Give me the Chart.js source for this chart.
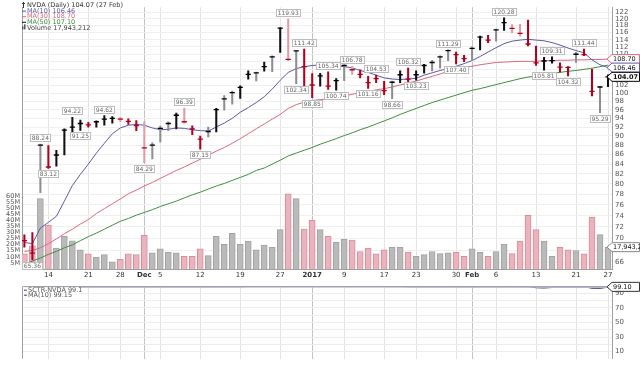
<!DOCTYPE html>
<html>
<head>
<meta charset="utf-8">
<title>NVDA Daily</title>
<script src="https://cdn.jsdelivr.net/npm/chart.js@4.4.1/dist/chart.umd.min.js"></script>
<style>
  html, body { margin: 0; padding: 0; background: #fff; width: 640px; height: 366px; overflow: hidden; }
  canvas { position: absolute; left: 0; display: block; }
  #main { top: 0; }
  #sctr { top: 279px; }
</style>
</head>
<body>
<canvas id="main" width="640" height="279"></canvas>
<canvas id="sctr" width="640" height="87"></canvas>
<script>
// ---- data ----
const dates = ['2016-11-09','2016-11-10','2016-11-11','2016-11-14','2016-11-15','2016-11-16','2016-11-17','2016-11-18','2016-11-21','2016-11-22',
  '2016-11-23','2016-11-25','2016-11-28','2016-11-29','2016-11-30','2016-12-01','2016-12-02','2016-12-05','2016-12-06','2016-12-07',
  '2016-12-08','2016-12-09','2016-12-12','2016-12-13','2016-12-14','2016-12-15','2016-12-16','2016-12-19','2016-12-20','2016-12-21',
  '2016-12-22','2016-12-23','2016-12-27','2016-12-28','2016-12-29','2016-12-30','2017-01-03','2017-01-04','2017-01-05','2017-01-06',
  '2017-01-09','2017-01-10','2017-01-11','2017-01-12','2017-01-13','2017-01-17','2017-01-18','2017-01-19','2017-01-20','2017-01-23',
  '2017-01-24','2017-01-25','2017-01-26','2017-01-27','2017-01-30','2017-01-31','2017-02-01','2017-02-02','2017-02-03','2017-02-06',
  '2017-02-07','2017-02-08','2017-02-09','2017-02-10','2017-02-13','2017-02-14','2017-02-15','2017-02-16','2017-02-17','2017-02-21',
  '2017-02-22','2017-02-23','2017-02-24','2017-02-27'];

const high = [70.6, 71.0, 88.24, 87.9, 86.9, 91.6, 94.22, 93.6, 93.1, 93.4,
  94.62, 94.4, 94.2, 93.9, 93.5, 93.2, 88.5, 92.2, 93.2, 95.2,
  96.39, 92.3, 90.0, 92.0, 96.3, 99.4, 100.5, 101.8, 105.6, 105.3,
  107.9, 109.6, 117.4, 119.93, 111.0, 111.42, 104.9, 105.0, 105.34, 103.6,
  107.2, 106.78, 105.9, 104.2, 104.53, 102.9, 103.0, 105.6, 106.32, 105.6,
  107.3, 108.4, 109.6, 111.29, 110.6, 109.7, 112.0, 115.0, 115.2, 117.0,
  120.28, 118.3, 118.4, 119.6, 112.2, 109.2, 109.31, 107.7, 106.7, 110.5,
  111.44, 106.0, 101.7, 104.6];

const low = [68.5, 66.4, 78.3, 83.12, 83.6, 85.9, 89.9, 91.25, 92.0, 92.0,
  92.4, 92.9, 93.2, 92.6, 91.2, 84.29, 85.1, 88.7, 91.2, 91.6,
  92.9, 90.3, 87.15, 89.8, 90.9, 95.9, 97.3, 98.7, 103.5, 103.0,
  105.5, 105.4, 110.5, 108.3, 102.34, 101.8, 98.85, 101.7, 100.9, 100.74,
  103.1, 104.7, 103.8, 101.16, 102.6, 99.6, 98.66, 102.6, 102.6, 103.23,
  105.0, 105.6, 106.3, 108.3, 107.40, 108.0, 108.3, 111.2, 113.2, 113.6,
  116.6, 115.9, 115.0, 112.3, 107.0, 105.81, 107.6, 105.3, 104.32, 107.8,
  109.6, 99.3, 95.29, 101.6];

const close = [69.6, 67.5, 88.0, 83.4, 85.9, 91.3, 92.0, 92.8, 92.5, 93.2,
  93.8, 94.0, 93.8, 93.3, 92.3, 87.4, 88.0, 91.7, 92.8, 94.7,
  93.2, 91.6, 89.3, 91.0, 96.0, 98.6, 100.1, 101.4, 104.7, 105.1,
  106.7, 109.3, 117.3, 108.6, 110.9, 106.7, 102.0, 104.3, 101.7, 103.1,
  107.0, 105.9, 104.7, 102.6, 103.6, 100.6, 102.7, 104.6, 103.5, 104.6,
  107.0, 107.8, 109.3, 111.0, 109.9, 108.8, 111.6, 114.7, 113.9, 116.8,
  118.9, 117.2, 115.8, 112.8, 107.7, 108.2, 108.3, 106.6, 106.5, 110.0,
  109.9, 100.4, 101.5, 104.07];

// k = black bar, g = grey bar, r = red bar, p = pale red bar
const barStyle = ['r','r','g','r','k','k','k','k','r','k',
  'k','k','p','r','r','p','g','g','g','k',
  'p','r','r','g','k','g','g','k','k','g',
  'k','g','k','p','g','r','r','k','r','k',
  'g','p','r','r','r','r','g','k','r','k',
  'k','g','g','g','r','r','g','k','r','g',
  'k','p','p','r','r','k','k','r','r','g',
  'r','r','g','k'];

// volume, millions of shares
const volume = [12.4, 19.0, 57.9, 36.0, 17.1, 27.0, 23.1, 15.8, 12.4, 9.7,
  11.8, 5.8, 7.9, 12.4, 11.8, 27.6, 13.2, 16.6, 13.7, 13.2,
  10.5, 10.5, 16.6, 11.0, 26.8, 20.3, 29.4, 20.3, 22.9, 15.8,
  19.7, 17.9, 32.4, 61.8, 57.9, 32.9, 40.3, 32.4, 26.8, 21.9,
  24.5, 23.7, 14.4, 17.1, 12.4, 15.8, 17.9, 17.9, 14.0, 10.5,
  11.8, 14.4, 12.6, 13.2, 13.7, 10.5, 16.6, 13.7, 10.5, 14.4,
  20.5, 12.6, 22.9, 44.2, 32.4, 22.9, 10.5, 17.9, 15.8, 15.2,
  12.4, 42.6, 28.2, 17.943212];

const ma10 = [69.3, 69.1, 71.8, 72.8, 73.9, 76.7, 79.7, 81.9, 84.0, 86.3,
  88.4, 90.5, 91.8, 92.4, 92.6, 92.4, 91.8, 91.4, 91.5, 91.8,
  91.7, 91.4, 91.2, 91.1, 92.0, 92.9, 94.0, 95.4, 96.5, 97.7,
  99.1, 101.0, 103.2, 105.2, 106.2, 106.7, 107.0, 107.2, 107.1, 107.0,
  106.7, 106.4, 105.7, 105.2, 104.5, 103.8, 103.5, 103.4, 103.5, 103.7,
  104.5, 105.1, 105.7, 106.2, 106.8, 107.5, 108.3, 109.4, 110.6, 111.8,
  112.9, 113.6, 113.9, 114.1, 113.9, 113.7, 113.2, 112.5, 111.7, 111.0,
  110.4, 108.5, 107.2, 106.46];

const ma30 = [67.8, 67.95, 68.4, 69.1, 69.9, 70.8, 71.6, 72.5, 73.3, 74.4,
  75.3, 76.2, 77.1, 78.1, 78.8, 79.6, 80.3, 81.1, 81.9, 82.7,
  83.4, 84.2, 85.0, 85.9, 86.7, 87.5, 88.4, 89.4, 90.5, 91.6,
  92.7, 93.8, 94.9, 96.3, 97.2, 97.8, 98.2, 98.4, 98.6, 99.0,
  99.3, 99.7, 100.1, 100.4, 100.8, 101.1, 101.5, 102.0, 102.5, 103.0,
  103.6, 104.2, 104.8, 105.5, 106.0, 106.5, 106.8, 107.2, 107.5, 107.8,
  107.9, 108.0, 108.1, 108.1, 108.1, 108.3, 108.3, 108.4, 108.4, 108.5,
  108.5, 108.6, 108.6, 108.70];

const ma50 = [65.7, 66.2, 66.7, 67.3, 67.8, 68.4, 68.9, 69.6, 70.3, 70.9,
  71.6, 72.3, 73.0, 73.5, 74.1, 74.6, 75.1, 75.7, 76.2, 76.7,
  77.3, 77.9, 78.4, 79.0, 79.6, 80.1, 80.7, 81.3, 81.9, 82.7,
  83.2, 84.0, 84.8, 85.7, 86.3, 86.9, 87.5, 88.2, 88.8, 89.4,
  90.1, 90.7, 91.4, 92.0, 92.7, 93.4, 94.1, 94.9, 95.6, 96.3,
  97.0, 97.7, 98.3, 98.9, 99.5, 100.1, 100.7, 101.1, 101.6, 102.1,
  102.6, 103.1, 103.6, 104.0, 104.3, 104.7, 105.0, 105.2, 105.5, 105.7,
  106.0, 106.3, 106.7, 107.10];

const sctr = [99.3, 99.2, 99.6, 99.6, 99.7, 99.7, 99.8, 99.8, 99.8, 99.8,
  99.8, 99.8, 99.8, 99.8, 99.8, 99.7, 99.7, 99.8, 99.8, 99.8,
  99.8, 99.8, 99.8, 99.8, 99.8, 99.9, 99.9, 99.9, 99.9, 99.9,
  99.9, 99.9, 99.9, 99.9, 99.9, 99.9, 99.9, 99.9, 99.9, 99.9,
  99.9, 99.9, 99.9, 99.9, 99.9, 99.8, 99.8, 99.8, 99.8, 99.8,
  99.8, 99.8, 99.8, 99.9, 99.9, 99.8, 99.8, 99.9, 99.9, 99.9,
  99.9, 99.9, 99.8, 99.6, 97.8, 97.6, 98.2, 99.2, 99.5, 99.6,
  99.4, 97.2, 97.0, 99.1];

const sctrMa = [99.1, 99.1, 99.2, 99.3, 99.4, 99.5, 99.5, 99.6, 99.6, 99.7,
  99.7, 99.7, 99.7, 99.8, 99.8, 99.8, 99.8, 99.8, 99.8, 99.8,
  99.8, 99.8, 99.8, 99.8, 99.8, 99.8, 99.8, 99.8, 99.9, 99.9,
  99.9, 99.9, 99.9, 99.9, 99.9, 99.9, 99.9, 99.9, 99.9, 99.9,
  99.9, 99.9, 99.9, 99.9, 99.9, 99.9, 99.9, 99.9, 99.8, 99.8,
  99.8, 99.8, 99.8, 99.8, 99.8, 99.8, 99.8, 99.8, 99.8, 99.8,
  99.8, 99.8, 99.8, 99.8, 99.6, 99.5, 99.4, 99.4, 99.4, 99.4,
  99.4, 99.2, 99.1, 99.15];

const tickDates = ['2016-11-14','2016-11-21','2016-11-28','2016-12-01','2016-12-05','2016-12-12','2016-12-19','2016-12-27','2017-01-03',
  '2017-01-09','2017-01-17','2017-01-23','2017-01-30','2017-02-01','2017-02-06','2017-02-13','2017-02-21','2017-02-27'];
const tickText = ['14','21','28','Dec','5','12','19','27','2017','9','17','23','30','Feb','6','13','21','27'];
const monthText = ['Dec','2017','Feb'];

const priceTicks = [66,68,70,72,74,76,78,80,82,84,86,88,90,92,94,96,98,100,102,104,106,108,110,112,114,116,118,120,122];
const volTicks = [5,10,15,20,25,30,35,40,45,50,55,60];
const sctrGrid = [10,20,30,40,50,60,70,80,90];
const sctrTicks = [10,30,50,70,90];

// [bar index, side, text]
const priceNotes = [[1,'below','65.36'],[2,'above','88.24'],[3,'below','83.12'],[6,'above','94.22'],[7,'below','91.25'],
  [10,'above','94.62'],[15,'below','84.29'],[20,'above','96.39'],[22,'below','87.15'],[33,'above','119.93'],
  [34,'below','102.34'],[35,'above','111.42'],[36,'below','98.85'],[38,'above','105.34'],[39,'below','100.74'],
  [41,'above','106.78'],[43,'below','101.16'],[44,'above','104.53'],[46,'below','98.66'],[48,'above','106.32'],
  [49,'below','103.23'],[53,'above','111.29'],[54,'below','107.40'],[60,'above','120.28'],[65,'below','105.81'],
  [66,'above','109.31'],[68,'below','104.32'],[70,'above','111.44'],[72,'below','95.29']];

// ---- styling ----
const FONT = '"DejaVu Sans", Verdana, sans-serif';
const C_MA10 = '#5a5aa8', C_MA30 = '#d8697f', C_MA50 = '#3f8f3f';
const wickColor = { k: '#111', g: '#8e8e8e', r: '#b0001c', p: '#e29aa7' };
const isDown = s => s === 'r' || s === 'p';
const last = dates.length - 1;
const xTickIdx = tickDates.map(d => dates.indexOf(d));
const isMonth = i => monthText.includes(tickText[i]);
const volText = Math.round(volume[last] * 1e6).toLocaleString('en-US');

Chart.defaults.font.family = FONT;
Chart.defaults.font.size = 7;

function valueTag(ctx, y, text, stroke, bold) {
  const h = 4.5;
  ctx.beginPath();
  ctx.moveTo(607, y); ctx.lineTo(612, y - h); ctx.lineTo(639.5, y - h);
  ctx.lineTo(639.5, y + h); ctx.lineTo(612, y + h); ctx.closePath();
  ctx.fillStyle = '#fff'; ctx.fill();
  ctx.lineWidth = 1; ctx.strokeStyle = stroke; ctx.stroke();
  ctx.fillStyle = '#111';
  ctx.font = (bold ? 'bold ' : '') + '6.5px ' + FONT;
  ctx.textAlign = 'left'; ctx.textBaseline = 'middle';
  ctx.fillText(text, 613, y + 0.5);
}

const xGridColor = c => isMonth(c.index) ? '#c2c2c2' : '#e4e4e4';

const mainOverlay = {
  id: 'mainOverlay',
  afterDatasetsDraw(chart) {
    const { ctx, scales: { x, y } } = chart;
    ctx.save();
    ctx.font = '6px ' + FONT;
    ctx.textAlign = 'center'; ctx.textBaseline = 'middle';
    for (const [i, side, text] of priceNotes) {
      const px = x.getPixelForValue(i);
      const w = Math.round(ctx.measureText(text).width) + 4, h = 8;
      const top = side === 'above'
        ? Math.round(y.getPixelForValue(high[i])) - 2 - h
        : Math.round(y.getPixelForValue(low[i])) + 2;
      const left = Math.round(px - w / 2);
      ctx.fillStyle = '#fff'; ctx.fillRect(left, top, w, h);
      ctx.strokeStyle = '#bdbdbd'; ctx.lineWidth = 1;
      ctx.strokeRect(left + 0.5, top + 0.5, w - 1, h - 1);
      ctx.fillStyle = '#666'; ctx.fillText(text, px, top + h / 2 + 0.5);
    }
    ctx.restore();
  },
  afterDraw(chart) {
    const { ctx, scales: { y, vol } } = chart;
    ctx.save();
    valueTag(ctx, y.getPixelForValue(ma30[last]), ma30[last].toFixed(2), C_MA30, false);
    valueTag(ctx, y.getPixelForValue(ma10[last]), ma10[last].toFixed(2), C_MA10, false);
    valueTag(ctx, y.getPixelForValue(close[last]), close[last].toFixed(2), '#000', true);
    valueTag(ctx, vol.getPixelForValue(volume[last] * 1e6), volText, '#888', false);

    // legend, top left
    const rows = [
      ['NVDA (Daily) ' + close[last].toFixed(2) + ' (27 Feb)', '#333', 'icon'],
      ['MA(10) ' + ma10[last].toFixed(2), C_MA10, C_MA10],
      ['MA(30) ' + ma30[last].toFixed(2), C_MA30, C_MA30],
      ['MA(50) ' + ma50[last].toFixed(2), C_MA50, '#111'],
      ['Volume ' + volText, '#444', 'vol']
    ];
    ctx.font = '6.5px ' + FONT;
    ctx.textAlign = 'left'; ctx.textBaseline = 'middle';
    rows.forEach(([text, color, mark], r) => {
      const ty = 5 + r * 5.6;
      if (mark === 'icon') {
        ctx.strokeStyle = '#333'; ctx.lineWidth = 1;
        ctx.beginPath(); ctx.moveTo(23.5, ty - 3); ctx.lineTo(23.5, ty + 3); ctx.moveTo(22, ty - 1.5); ctx.lineTo(25, ty - 1.5); ctx.stroke();
      } else if (mark === 'vol') {
        ctx.fillStyle = '#555';
        ctx.fillRect(22, ty - 1, 1.5, 3); ctx.fillRect(24, ty - 3, 1.5, 5);
      } else {
        ctx.strokeStyle = mark; ctx.lineWidth = 1;
        ctx.beginPath(); ctx.moveTo(22, ty + 0.5); ctx.lineTo(26, ty + 0.5); ctx.stroke();
      }
      ctx.fillStyle = color;
      ctx.fillText(text, 27, ty + 0.5);
    });
    ctx.restore();
  }
};

new Chart(document.getElementById('main'), {
  type: 'bar',
  data: {
    datasets: [
      { type: 'line', label: 'Close', data: close.map((v, i) => ({ x: i, y: v })), showLine: false,
        pointStyle: 'line', pointRadius: 2.6, pointHoverRadius: 2.6, pointBorderWidth: 1.3,
        pointBorderColor: barStyle.map(s => isDown(s) ? '#b0001c' : '#000'), yAxisID: 'y', order: 0 },
      { type: 'bar', label: 'Range', data: high.map((h, i) => ({ x: i, y: [low[i], h] })),
        backgroundColor: barStyle.map(s => wickColor[s]), barThickness: 1.4, grouped: false, yAxisID: 'y', order: 1 },
      { type: 'line', label: 'MA(10)', data: ma10.map((v, i) => ({ x: i, y: v })), borderColor: C_MA10,
        borderWidth: 1, pointRadius: 0, tension: 0, yAxisID: 'y', order: 2 },
      { type: 'line', label: 'MA(30)', data: ma30.map((v, i) => ({ x: i, y: v })), borderColor: C_MA30,
        borderWidth: 1, pointRadius: 0, tension: 0, yAxisID: 'y', order: 3 },
      { type: 'line', label: 'MA(50)', data: ma50.map((v, i) => ({ x: i, y: v })), borderColor: C_MA50,
        borderWidth: 1, pointRadius: 0, tension: 0, yAxisID: 'y', order: 4 },
      { type: 'bar', label: 'Volume', data: volume.map((v, i) => ({ x: i, y: v * 1e6 })),
        backgroundColor: barStyle.map(s => isDown(s) ? '#ecb3bd' : '#bababa'),
        borderColor: barStyle.map(s => isDown(s) ? '#d98c9b' : '#a2a2a2'),
        borderWidth: 1, barThickness: 6, grouped: false, yAxisID: 'vol', order: 5 }
    ]
  },
  options: {
    responsive: false, animation: false, events: [],
    layout: { padding: 0 },
    plugins: { legend: { display: false }, tooltip: { enabled: false } },
    scales: {
      x: {
        type: 'linear', min: -0.3, max: 73.5, bounds: 'data', offset: false,
        afterBuildTicks: s => { s.ticks = xTickIdx.map(v => ({ value: v })); },
        afterFit: s => { s.height = 10; },
        grid: { offset: false, drawTicks: false, color: xGridColor },
        border: { display: true, color: '#a0a0a0' },
        ticks: { autoSkip: false, maxRotation: 0, padding: 2, color: '#333',
          font: c => ({ family: FONT, size: 7, weight: isMonth(c.index) ? 'bold' : 'normal' }),
          callback: (v, i) => tickText[i] }
      },
      y: {
        type: 'logarithmic', position: 'right', min: 64.93, max: 123.47, bounds: 'data',
        afterBuildTicks: s => { s.ticks = priceTicks.map(v => ({ value: v })); },
        afterFit: s => { s.width = 28; },
        grid: { drawTicks: false, color: '#efefef' },
        border: { display: true, color: '#a0a0a0' },
        ticks: { autoSkip: false, padding: 3, color: '#555', font: { size: 7 }, callback: v => String(v) }
      },
      vol: {
        type: 'linear', position: 'left', min: 0, max: 215.2e6, bounds: 'data',
        afterBuildTicks: s => { s.ticks = volTicks.map(v => ({ value: v * 1e6 })); },
        afterFit: s => { s.width = 22; },
        grid: { display: false, drawTicks: false },
        border: { display: true, color: '#a0a0a0' },
        ticks: { autoSkip: false, padding: 2, color: '#555', font: { size: 6.5 }, callback: v => (v / 1e6) + 'M' }
      }
    }
  },
  plugins: [mainOverlay]
});

const sctrOverlay = {
  id: 'sctrOverlay',
  afterDraw(chart) {
    const { ctx, chartArea: a, scales: { y } } = chart;
    ctx.save();
    ctx.strokeStyle = '#a0a0a0'; ctx.lineWidth = 1;
    ctx.beginPath();
    ctx.moveTo(a.left + 0.5, a.bottom); ctx.lineTo(a.left + 0.5, a.top + 0.5); ctx.lineTo(a.right, a.top + 0.5);
    ctx.stroke();
    // legend
    ctx.fillStyle = '#fff'; ctx.fillRect(a.left + 1, a.top + 1, 56, 10);
    ctx.font = '6.5px ' + FONT; ctx.textAlign = 'left'; ctx.textBaseline = 'middle';
    const rows = [['SCTR-NVDA ' + sctr[last].toFixed(1), '#3b3b78'], ['MA(10) ' + sctrMa[last].toFixed(2), '#3b3b78']];
    rows.forEach(([t, col], r) => {
      const ty = a.top + 3.5 + r * 5;
      ctx.strokeStyle = col; ctx.beginPath(); ctx.moveTo(a.left + 2, ty + 0.5); ctx.lineTo(a.left + 5, ty + 0.5); ctx.stroke();
      ctx.fillStyle = '#555'; ctx.fillText(t, a.left + 6, ty + 0.5);
    });
    valueTag(ctx, Math.max(y.getPixelForValue(sctr[last]), 4.5), sctr[last].toFixed(2), '#333', false);
    ctx.restore();
  }
};

new Chart(document.getElementById('sctr'), {
  type: 'line',
  data: {
    datasets: [
      { label: 'MA(10)', data: sctrMa.map((v, i) => ({ x: i, y: v })), borderColor: '#b5b9da',
        borderWidth: 2.6, pointRadius: 0, tension: 0, order: 0 },
      { label: 'SCTR', data: sctr.map((v, i) => ({ x: i, y: v })), borderColor: '#3b3b78',
        borderWidth: 1.1, pointRadius: 0, tension: 0, order: 1 }
    ]
  },
  options: {
    responsive: false, animation: false, events: [],
    layout: { padding: { left: 22 } },
    plugins: { legend: { display: false }, tooltip: { enabled: false } },
    scales: {
      x: {
        type: 'linear', min: -0.3, max: 73.5, bounds: 'data', offset: false,
        afterBuildTicks: s => { s.ticks = xTickIdx.map(v => ({ value: v })); },
        afterFit: s => { s.height = 0; },
        grid: { offset: false, drawTicks: false, color: xGridColor },
        border: { display: false },
        ticks: { display: false }
      },
      y: {
        type: 'linear', position: 'right', min: 0, max: 100, bounds: 'data',
        afterBuildTicks: s => { s.ticks = sctrGrid.map(v => ({ value: v })); },
        afterFit: s => { s.width = 28; },
        grid: { drawTicks: false, color: '#ececec' },
        border: { display: true, color: '#a0a0a0' },
        ticks: { autoSkip: false, padding: 3, color: '#555', font: { size: 7 },
          callback: v => sctrTicks.includes(v) ? String(v) : '' }
      }
    }
  },
  plugins: [sctrOverlay]
});
</script>
</body>
</html>
